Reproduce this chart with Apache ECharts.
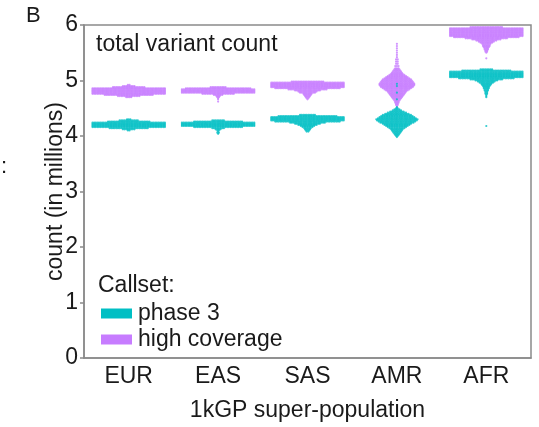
<!DOCTYPE html>
<html>
<head>
<meta charset="utf-8">
<script src="https://cdn.jsdelivr.net/npm/echarts@6/dist/echarts.min.js"></script>
<style>
  html, body { margin: 0; padding: 0; background: #fff; }
  #chart { width: 539px; height: 427px; }
</style>
</head>
<body>
<div id="chart"></div>
<script>
// Super-populations on the x axis
const populations = ['EUR', 'EAS', 'SAS', 'AMR', 'AFR'];
const callsets = ['phase 3', 'high coverage'];
const callsetColors = ['#00BFC4', '#C77CFF'];

// Per-sample variant counts (millions), binned: [count value, number of samples in bin]
const eurPhase3 = [[4.30,3],[4.28,12],[4.26,26],[4.24,46],[4.22,46],[4.20,46],[4.18,46],[4.16,46],[4.14,24],[4.12,8],[4.10,2]];
const eurHigh = [[4.92,2],[4.90,8],[4.88,20],[4.86,46],[4.84,46],[4.82,46],[4.80,46],[4.78,46],[4.76,46],[4.74,30],[4.72,14],[4.70,4]];

const easPhase3 = [[4.28,8],[4.26,30],[4.24,46],[4.22,46],[4.20,46],[4.18,46],[4.16,30],[4.14,8],[4.12,4],[4.10,2],[4.08,1],[4.06,2],[4.04,1]];
const easHigh = [[4.88,10],[4.86,40],[4.84,46],[4.82,46],[4.80,46],[4.78,46],[4.76,20],[4.74,6],[4.72,3],[4.70,2],[4.68,1],[4.66,1],[4.62,1]];

const sasPhase3 = [[4.38,10],[4.36,36],[4.34,46],[4.32,46],[4.30,46],[4.28,46],[4.26,40],[4.24,22],[4.22,16],[4.20,12],[4.18,9],[4.16,7],[4.14,5],[4.12,4],[4.10,3],[4.08,2]];
const sasHigh = [[4.98,20],[4.96,46],[4.94,46],[4.92,46],[4.90,46],[4.88,46],[4.86,40],[4.84,24],[4.82,16],[4.80,12],[4.78,10],[4.76,6],[4.74,5],[4.72,4],[4.70,3],[4.68,2],[4.66,1]];

const amrPhase3 = [[4.94,1],[4.90,1],[4.78,1],[4.66,1],[4.52,1],[4.50,2],[4.48,4],[4.46,6],[4.44,9],[4.42,12],[4.40,15],[4.38,18],[4.36,20],[4.34,22],[4.32,24],[4.30,26],[4.28,25],[4.26,23],[4.24,21],[4.22,18],[4.20,16],[4.18,14],[4.16,12],[4.14,10],[4.12,8],[4.10,7],[4.08,6],[4.06,5],[4.04,4],[4.02,3],[4.00,2],[3.98,1]];
const amrHigh = [[5.66,1],[5.62,1],[5.58,1],[5.54,1],[5.50,1],[5.46,1],[5.42,1],[5.38,2],[5.34,2],[5.30,2],[5.26,3],[5.22,3],[5.20,4],[5.18,5],[5.16,6],[5.14,7],[5.12,8],[5.10,10],[5.08,12],[5.06,14],[5.04,16],[5.02,18],[5.00,19],[4.98,20],[4.96,21],[4.94,22],[4.92,22],[4.90,21],[4.88,20],[4.86,18],[4.84,16],[4.82,14],[4.80,12],[4.78,11],[4.76,10],[4.74,9],[4.72,8],[4.70,7],[4.68,6],[4.66,5],[4.64,4],[4.62,3],[4.60,3],[4.58,2],[4.56,2],[4.54,1],[4.52,1]];

const afrPhase3 = [[5.20,8],[5.18,30],[5.16,46],[5.14,46],[5.12,46],[5.10,46],[5.08,46],[5.06,46],[5.04,34],[5.02,20],[5.00,14],[4.98,11],[4.96,9],[4.94,7],[4.92,6],[4.90,5],[4.88,4],[4.86,4],[4.84,3],[4.82,3],[4.80,2],[4.78,2],[4.76,2],[4.74,1],[4.72,1],[4.70,1],[4.18,1]];
const afrHigh = [[5.96,20],[5.94,46],[5.92,46],[5.90,46],[5.88,46],[5.86,46],[5.84,46],[5.82,46],[5.80,46],[5.78,40],[5.76,26],[5.74,18],[5.72,13],[5.70,10],[5.68,8],[5.66,6],[5.64,5],[5.62,5],[5.60,4],[5.58,3],[5.56,3],[5.54,2],[5.52,2],[5.50,1],[5.40,1]];

const phase3Bins = [eurPhase3, easPhase3, sasPhase3, amrPhase3, afrPhase3];
const highBins = [eurHigh, easHigh, sasHigh, amrHigh, afrHigh];

// Expand binned counts into one data item per sample: [category, value, slot in row, row size]
function swarmData(binsPerPop) {
  const out = [];
  binsPerPop.forEach((bins, ci) => {
    bins.forEach(([v, n]) => {
      for (let k = 0; k < n; k++) out.push([ci, v, k, n]);
    });
  });
  return out;
}

const SWARM_HALF_WIDTH = 37;   // corral width (px) on each side of the category centre
const POINT_STEP = 1.65;       // preferred horizontal spacing between samples (px)
const POINT_R = 1.1;

function renderSwarm(params, api) {
  const c = api.coord([api.value(0), api.value(1)]);
  const n = api.value(3);
  const step = Math.min(POINT_STEP, (2 * SWARM_HALF_WIDTH) / Math.max(n, 1));
  const x = c[0] + (api.value(2) - (n - 1) / 2) * step;
  return {
    type: 'circle',
    shape: { cx: x, cy: c[1], r: POINT_R },
    style: { fill: api.visual('color'), opacity: 0.8 }
  };
}

const FONT = 'Liberation Sans, Arial, sans-serif';
const TEXT = '#1a1a1a';
const AXIS = '#8a8a8a';

const chart = echarts.init(document.getElementById('chart'), null, { renderer: 'canvas' });
chart.setOption({
  animation: false,
  grid: { left: 84, right: 8, top: 25, bottom: 67, show: true, borderColor: AXIS, borderWidth: 1.5, backgroundColor: 'transparent' },
  xAxis: {
    type: 'category',
    data: populations,
    boundaryGap: true,
    name: '1kGP super-population',
    nameLocation: 'middle',
    nameGap: 41,
    nameTextStyle: { fontFamily: FONT, fontSize: 23, color: TEXT },
    axisLine: { lineStyle: { color: AXIS, width: 1.5 } },
    axisTick: { alignWithLabel: true, length: 4, lineStyle: { color: AXIS, width: 1.5 } },
    axisLabel: { fontFamily: FONT, fontSize: 23, color: TEXT, margin: 7 },
    splitLine: { show: false }
  },
  yAxis: {
    type: 'value',
    min: 0, max: 6, interval: 1,
    name: 'count (in millions)',
    nameLocation: 'middle',
    nameGap: 17,
    nameMoveOverlap: false,
    nameTextStyle: { fontFamily: FONT, fontSize: 23, color: TEXT },
    axisLine: { show: true, lineStyle: { color: AXIS, width: 1.5 } },
    axisTick: { show: true, length: 4, lineStyle: { color: AXIS, width: 1.5 } },
    axisLabel: { fontFamily: FONT, fontSize: 23, color: TEXT, margin: 6 },
    splitLine: { show: false }
  },
  legend: {
    data: callsets,
    orient: 'vertical',
    left: 101, top: 302,
    padding: 0,
    icon: 'rect',
    itemWidth: 31, itemHeight: 10,
    itemGap: 3,
    textStyle: { fontFamily: FONT, fontSize: 23, color: TEXT, padding: [0, 0, 0, 1] },
    selectedMode: false
  },
  graphic: [
    { type: 'text', left: 96, top: 33, style: { text: 'total variant count', font: '23px ' + FONT, fill: TEXT } },
    { type: 'text', left: 98, top: 274, style: { text: 'Callset:', font: '23px ' + FONT, fill: TEXT } },
    { type: 'text', left: 26, top: 5, style: { text: 'B', font: '22px ' + FONT, fill: TEXT } },
    { type: 'text', left: 1, top: 156, style: { text: ':', font: '22px ' + FONT, fill: TEXT } }
  ],
  series: [
    { name: callsets[1], type: 'custom', renderItem: renderSwarm, data: swarmData(highBins), itemStyle: { color: callsetColors[1] }, encode: { x: 0, y: 1 } },
    { name: callsets[0], type: 'custom', renderItem: renderSwarm, data: swarmData(phase3Bins), itemStyle: { color: callsetColors[0] }, encode: { x: 0, y: 1 } }
  ]
});
</script>
</body>
</html>
